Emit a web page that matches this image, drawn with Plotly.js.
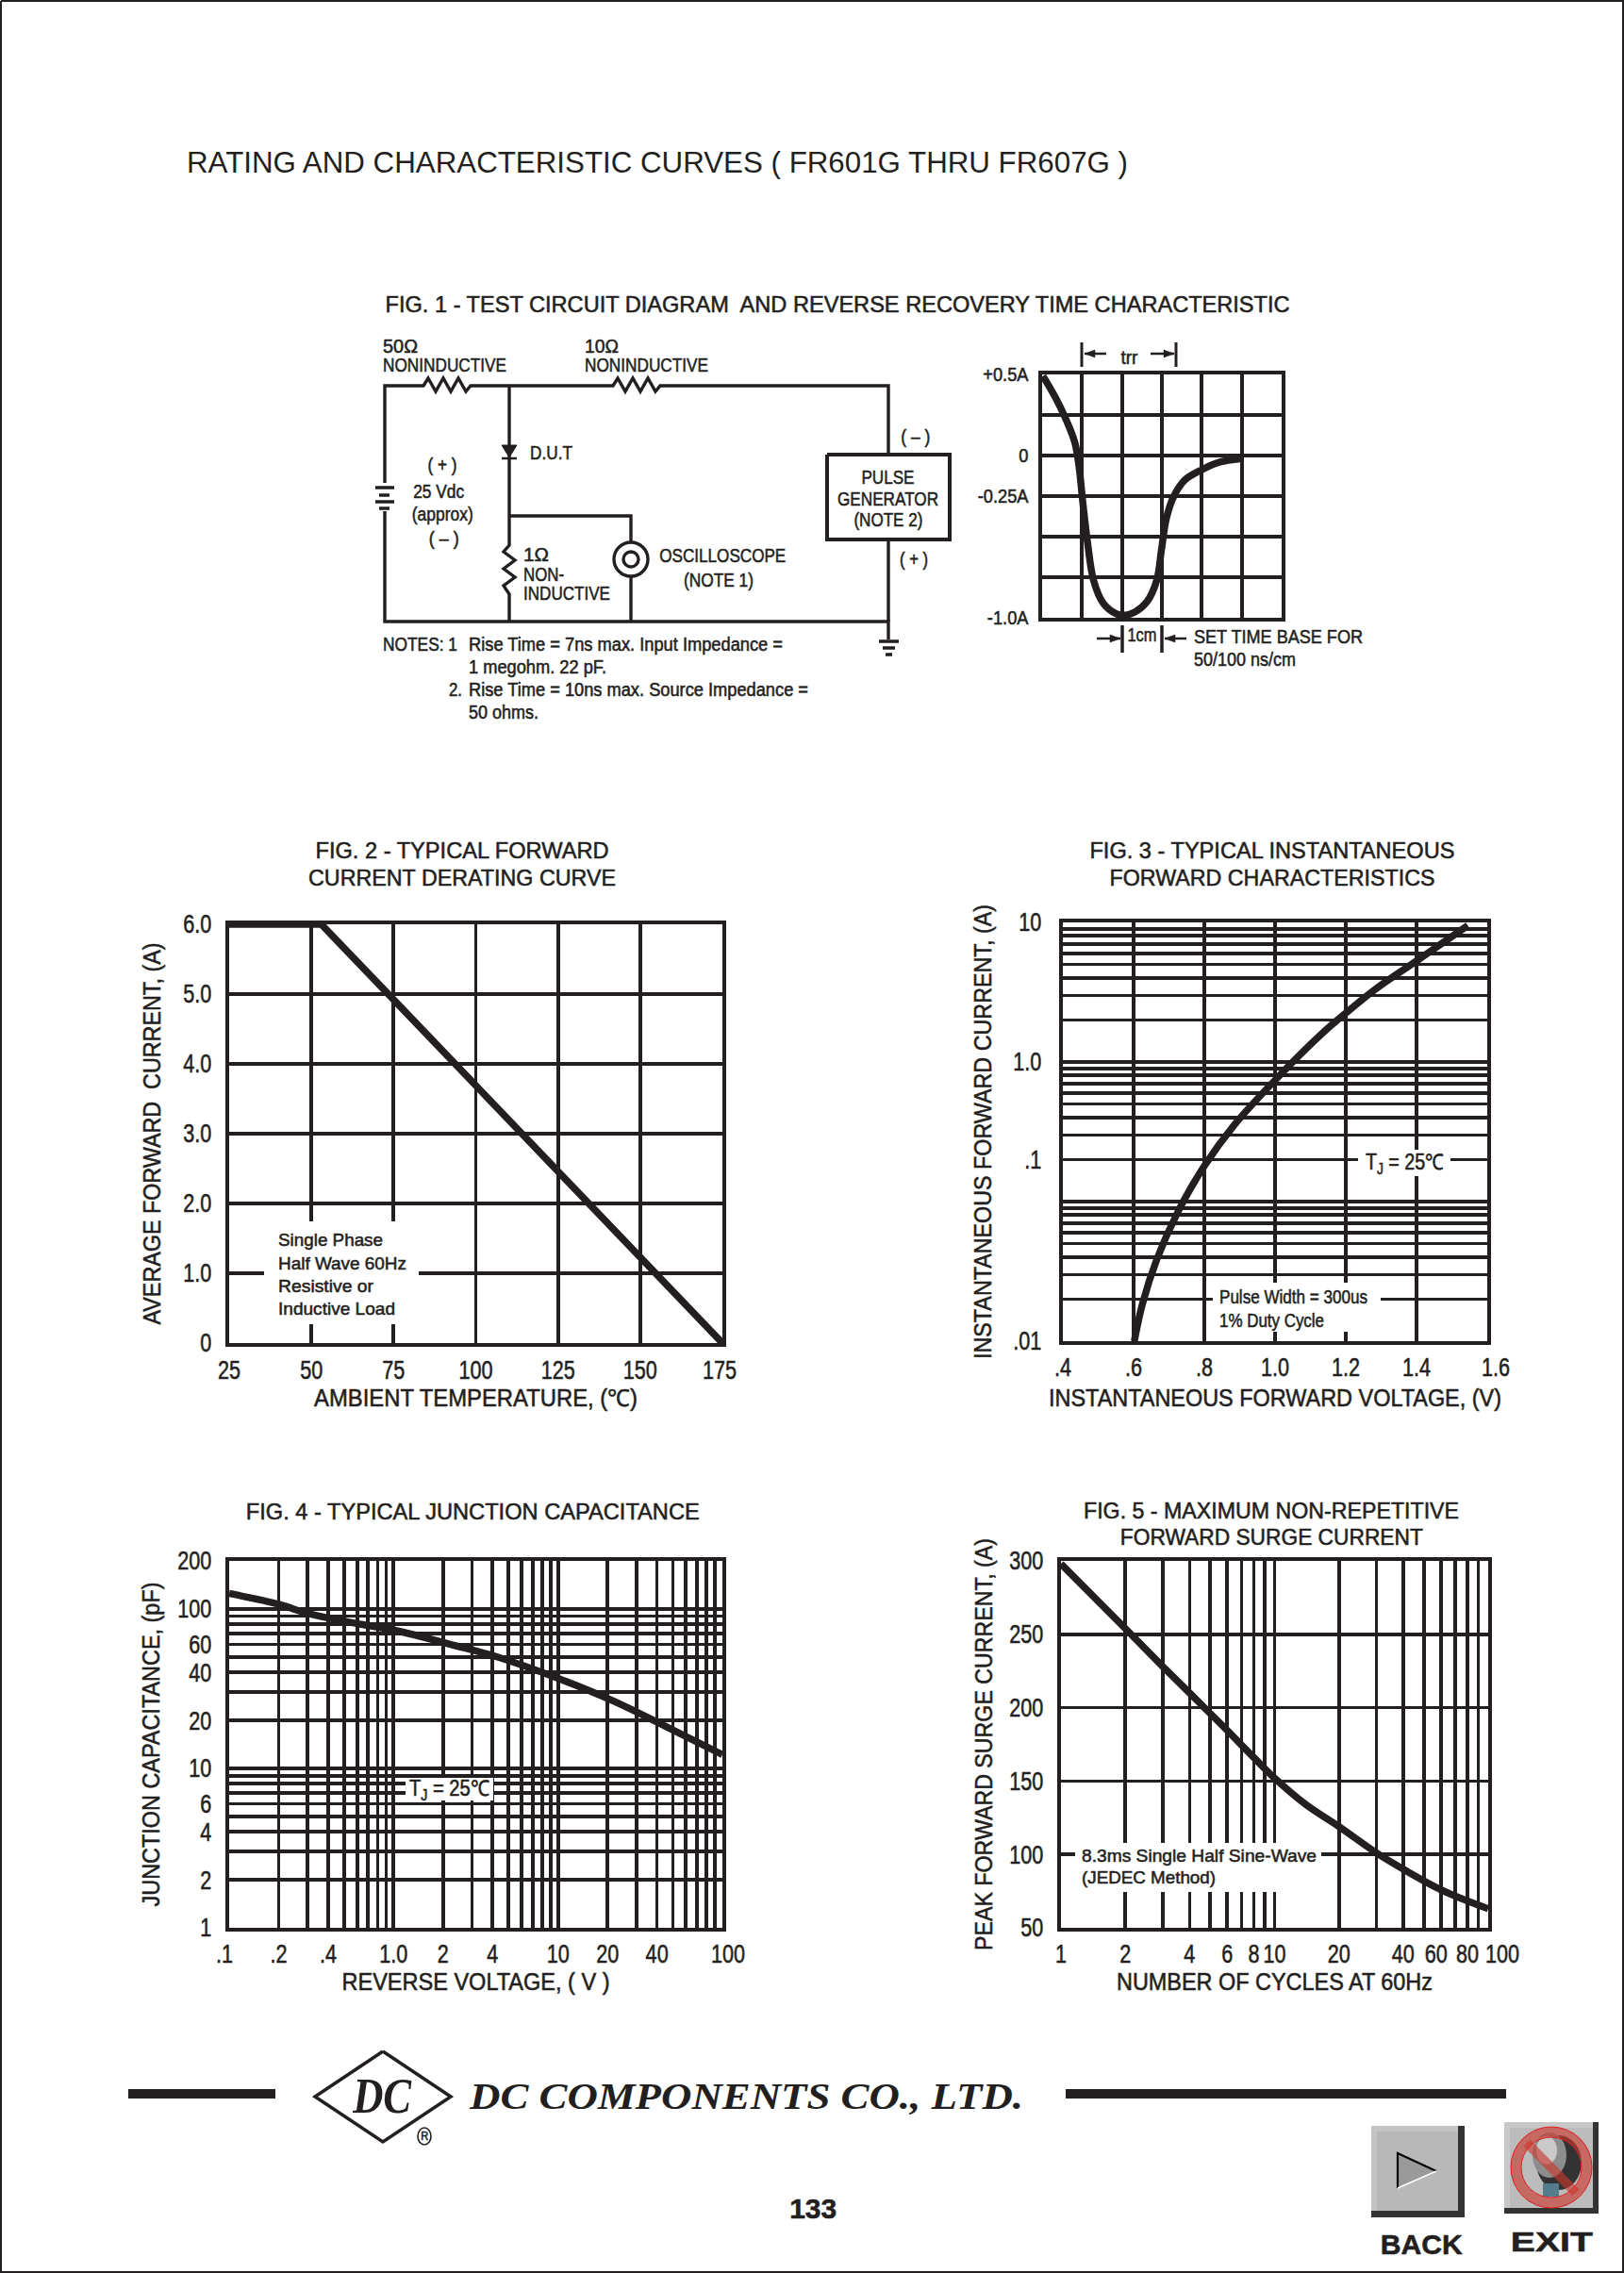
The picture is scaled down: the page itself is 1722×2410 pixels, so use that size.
<!DOCTYPE html>
<html>
<head>
<meta charset="utf-8">
<script src="https://cdn.plot.ly/plotly-3.0.1.min.js"></script>
<style>
html,body{margin:0;padding:0;background:#fff}
#chart text{stroke:#231f20;stroke-width:.55px}
#chart text.gtitle{stroke:none}
</style>
</head>
<body>
<div id="chart" style="width:1722px;height:2410px"></div>
<script>
// ---------- data ----------
const fig1Time    = [0.02,0.35,0.62,0.82,0.92,1.02,1.14,1.29,1.53,1.85,2.04,2.32,2.63,2.87,2.99,3.11,3.30,3.58,3.98,4.45,4.96];
const fig1Amps    = [0.49,0.35,0.21,0.08,-0.06,-0.29,-0.54,-0.77,-0.91,-0.975,-0.985,-0.965,-0.90,-0.77,-0.58,-0.39,-0.25,-0.15,-0.09,-0.04,-0.02];
const fig1YTicks  = [0.5,0,-0.25,-1];
const fig1YLabels = ['+0.5A','0','-0.25A','-1.0A'];
const fig1YGrid   = [0.25,-0.5,-0.75];
const fig1XGrid   = [0,1,2,3,4,5,6];

const fig2Temp    = [25,53,75,100,125,150,175];
const fig2Current = [6,6,4.92,3.69,2.46,1.23,0];
const fig2XTicks  = [25,50,75,100,125,150,175];
const fig2YTicks  = [0,1,2,3,4,5,6];
const fig2YLabels = ['0','1.0','2.0','3.0','4.0','5.0','6.0'];

const fig3Volt    = [0.602,0.625,0.666,0.727,0.80,0.885,1.0,1.133,1.2,1.285,1.4,1.545];
const fig3Current = [0.01,0.0185,0.0387,0.0861,0.18,0.355,0.741,1.6,2.24,3.34,5.3,9.5];
const fig3XTicks  = [0.4,0.6,0.8,1.0,1.2,1.4,1.6];
const fig3XLabels = ['.4','.6','.8','1.0','1.2','1.4','1.6'];
// the reference prints ".1" next to the heavy line two steps above the .1 decade line
const fig3YTicks  = [0.01,0.2,1,10];
const fig3YLabels = ['.01','.1','1.0','10'];
const fig3YGrid   = [0.02,0.03,0.04,0.05,0.06,0.07,0.08,0.09,0.1,0.3,0.4,0.5,0.6,0.7,0.8,0.9,2,3,4,5,6,7,8,9];

const fig4Volt    = [0.1,0.2,0.297,0.526,1.11,2.2,4.35,10.1,21.8,43.9,100];
const fig4Cap     = [125,107,94,83,72,60,49.7,36.6,26.4,18.6,12.2];
const fig4XTicks  = [0.1,0.2,0.4,1,2,4,10,20,40,100];
const fig4XLabels = ['.1','.2','.4','1.0','2','4','10','20','40','100'];
const fig4XGrid   = [0.3,0.5,0.6,0.7,0.8,0.9,3,5,6,7,8,9,30,50,60,70,80,90];
const fig4YTicks  = [1,2,4,6,10,20,40,60,100,200];
const fig4YGrid   = [3,5,7,8,9,30,50,70,80,90];

const fig5Cycles  = [1,2,3,4,5,6,8,10,14,20,30,40,60,100];
const fig5Amps    = [298,254,228,210,196,184.5,166,152,134,119,101,90,76,63];
const fig5XTicks  = [1,2,4,6,8,10,20,40,60,80,100];
const fig5XGrid   = [3,5,7,9,30,50,70,90];
const fig5YTicks  = [50,100,150,200,250,300];

// ---------- page frame helpers ----------
const W = 1722, H = 2410;
const INK = '#231f20';
const SANS = '"Liberation Sans",Arial,sans-serif';
const SERIF = '"Liberation Serif",serif';
const px = x => x / W, py = y => 1 - y / H;
const domX = (l, r) => [px(l), px(r)], domY = (t, b) => [py(b), py(t)];

const shapes = [], annotations = [], textWidths = [];
function stroke(pts, w, color, fill) {
  const d = pts.map((p, i) => (i ? 'L' : 'M') + px(p[0]) + ' ' + py(p[1])).join(' ') + (fill ? ' Z' : '');
  shapes.push({type:'path', xref:'paper', yref:'paper', path:d,
    line:{color:color||INK, width:w}, fillcolor:fill||'rgba(0,0,0,0)'});
}
function disc(cx, cy, rx, ry, w, line, fill) {
  shapes.push({type:'circle', xref:'paper', yref:'paper',
    x0:px(cx-rx), x1:px(cx+rx), y0:py(cy+ry), y1:py(cy-ry),
    line:{color:line, width:w}, fillcolor:fill||'rgba(0,0,0,0)'});
}
function box(x0, y0, x1, y1, fill) {
  shapes.push({type:'rect', xref:'paper', yref:'paper', x0:px(x0), x1:px(x1), y0:py(y1), y1:py(y0),
    line:{width:0}, fillcolor:fill});
}
function label(text, x, y, size, anchor, width, family) {
  textWidths[annotations.length] = width;
  annotations.push({
    text, x:px(x), y:py(y), xref:'paper', yref:'paper', showarrow:false,
    xanchor:anchor||'center', yanchor:'middle', align:anchor==='left'?'left':'center',
    font:{family:family||SANS, size, color:INK}, borderpad:0
  });
}
function arrow(x0, x1, y) {
  const dir = x1 > x0 ? 1 : -1;
  stroke([[x0,y],[x1,y]], 2.5);
  stroke([[x1,y],[x1-dir*11,y-4],[x1-dir*11,y+4]], 0.5, INK, INK);
}

// ---------- page border ----------
stroke([[1,1],[1721,1],[1721,2409],[1,2409],[1,1]], 2);

// ---------- FIG. 1 circuit ----------
const LW = 3.4;
stroke([[408,512],[408,409],[449,409],[454,401],[462,415],[470,401],[478,415],[486,401],[494,415],[499,409],[650,409],[655,401],[663,415],[671,401],[679,415],[687,401],[695,415],[700,409],[942,409],[942,482]], LW);
stroke([[408,542],[408,659],[942,659],[942,678]], LW);
stroke([[942,572],[942,659]], LW);
stroke([[540,409],[540,578],[534,585],[546,594],[534,603],[546,612],[534,621],[540,630],[540,659]], LW);
stroke([[540,547],[669,547],[669,575]], LW);
stroke([[669,611],[669,659]], LW);
stroke([[532,472],[548,472],[540,485]], 1, INK, INK);
stroke([[532,486],[548,486]], 2.5);
disc(669,593,18,18,3.4,INK);
disc(669,593,8,8,3.4,INK);
stroke([[398,517],[418,517]], 3.5);
stroke([[402,525],[413,525]], 3.5);
stroke([[398,532],[418,532]], 3.5);
stroke([[402,539],[413,539]], 3.5);
stroke([[877,482],[1007,482],[1007,572],[877,572],[877,482]], 4);
stroke([[932,680],[953,680]], 3.5);
stroke([[936,687],[949,687]], 3.5);
stroke([[939,694],[946,694]], 3.5);

label('50\u03A9',405,366,21,'left',37);
label('NONINDUCTIVE',405,387,21,'left',131);
label('10\u03A9',619,366,21,'left',36);
label('NONINDUCTIVE',619,387,21,'left',131);
label('D.U.T',561,480,21,'left',45);
label('( + )',469,493,20,'center',31);
label('25 Vdc',465,521,20,'center',54);
label('(approx)',469,545,20,'center',65);
label('( \u2013 )',471,571,20,'center',32);
label('1\u03A9',554,587,21,'left',27);
label('NON-',554,608,21,'left',43);
label('INDUCTIVE',554,629,21,'left',92);
label('OSCILLOSCOPE',766,588,21,'center',134);
label('(NOTE 1)',762,614,21,'center',74);
label('PULSE',942,505,21,'center',56);
label('GENERATOR',942,528,21,'center',107);
label('(NOTE 2)',942,551,21,'center',73);
label('( \u2013 )',971,463,20,'center',31);
label('( + )',969,593,20,'center',30);
label('NOTES: 1',405,683,20,'left',79);
label('Rise Time = 7ns max. Input Impedance =',496,683,20,'left',333);
label('1 megohm. 22 pF.',496,707,20,'left',146);
label('2.',475,731,20,'left',14);
label('Rise Time = 10ns max. Source Impedance =',496,731,20,'left',360);
label('50 ohms.',496,755,20,'left',74);

// scope annotations
stroke([[1147,363],[1147,389]], 3);
stroke([[1247,363],[1247,389]], 3);
arrow(1173,1150,375);
arrow(1220,1245,375);
label('trr',1197,379,20,'center',18);
stroke([[1190,663],[1190,692]], 3.5);
stroke([[1232,663],[1232,692]], 3.5);
arrow(1163,1188,677);
arrow(1258,1235,677);
label('1cm',1211,673,20,'center',31);
label('SET TIME BASE FOR',1265,674,21,'left',179);
label('50/100 ns/cm',1265,698,21,'left',108);

// ---------- headings ----------
label('FIG. 1 - TEST CIRCUIT DIAGRAM  AND REVERSE RECOVERY TIME CHARACTERISTIC',888,323,24,'center',959);
label('FIG. 2 - TYPICAL FORWARD',490,901,24,'center',311);
label('CURRENT DERATING CURVE',490,931,24,'center',326);
label('FIG. 3 - TYPICAL INSTANTANEOUS',1349,901,24,'center',387);
label('FORWARD CHARACTERISTICS',1349,931,24,'center',345);
label('FIG. 4 - TYPICAL JUNCTION CAPACITANCE',501,1602,24,'center',481);
label('FIG. 5 - MAXIMUM NON-REPETITIVE',1348,1601,24,'center',398);
label('FORWARD SURGE CURRENT',1348,1629,24,'center',321);

// ---------- notes that break the grid ----------
function mask(x0, y0, x1, y1) {
  shapes.push({type:'rect', xref:'paper', yref:'paper', layer:'above',
    x0:px(x0), x1:px(x1), y0:py(y1), y1:py(y0), line:{width:0}, fillcolor:'#ffffff'});
}
mask(280,1295,444,1404);
label('Single Phase',294,1315,19,'left',111);
label('Half Wave 60Hz',294,1339,19,'left',136);
label('Resistive or',294,1363,19,'left',101);
label('Inductive Load',294,1388,19,'left',124);

mask(1440,1219,1538,1247);
label('T<sub>J</sub> = 25\u2103',1489,1233,23,'center',83);

mask(1286,1360,1464,1412);
label('Pulse Width = 300us',1292,1375,20,'left',157);
label('1% Duty Cycle',1292,1400,20,'left',111);

mask(430,1885,523,1909);
label('T<sub>J</sub> = 25\u2103',476,1897,23,'center',85);

mask(1140,1954,1401,2006);
label('8.3ms Single Half Sine-Wave',1146,1967,19,'left',249);
label('(JEDEC Method)',1146,1991,19,'left',142);

// ---------- footer ----------
box(136,2215,292,2225,INK);
box(1130,2215,1597,2225,INK);
stroke([[406,2175],[478,2223],[406,2271],[334,2223],[406,2175]], 3.5);
label('<i><b>DC</b></i>',405,2222,52,'center',62,SERIF);
disc(450,2265,7,9,1.6,INK);
label('R',450,2265,12,'center',8);
label('<i><b>DC COMPONENTS CO., LTD.</b></i>',496,2222,41,'left',587,SERIF);
label('<b>133</b>',862,2342,29,'center',50);

// ---------- BACK button ----------
box(1454,2254,1553,2351,'#333333');
box(1454,2254,1546,2344,'#c4c4c4');
box(1460,2260,1546,2344,'#b8b8b8');
stroke([[1482,2283],[1523,2302],[1482,2320]], 0.5, '#9a9a9a', '#9a9a9a');
stroke([[1482,2320],[1482,2283],[1523,2302]], 2.2, '#000000');
stroke([[1482,2320],[1523,2302]], 1.5, '#ffffff');
label('<b>BACK</b>',1507,2379,30,'center',87);

// ---------- EXIT button ----------
box(1595,2250,1695,2347,'#333333');
box(1595,2250,1689,2341,'#c8c8c8');
box(1601,2256,1689,2341,'#bcbcbc');
disc(1653,2293,24,29,0,'#333333','#333333');
disc(1643,2285,18,24,0,'#8d8d8d','#8d8d8d');
disc(1640,2280,11,15,0,'#c9c9c9','#c9c9c9');
box(1636,2315,1653,2329,'#557c8c');
disc(1645,2298,37.5,37.5,11,'rgba(205,55,45,0.62)');
stroke([[1619,2272],[1671,2325]], 10, 'rgba(205,55,45,0.62)');
disc(1645,2298,43,43,1,'#e01f1f');
disc(1645,2298,32,32,1,'#e01f1f');
label('<b>EXIT</b>',1645,2376,30,'center',87);

// ---------- axes ----------
const GRID = 3.7;
function axis(o) {
  const a = {
    domain:o.domain, anchor:o.anchor, type:o.type||'linear', range:o.range,
    showline:true, mirror:true, linecolor:INK, linewidth:4.3,
    showgrid:true, gridcolor:INK, gridwidth:GRID, zeroline:false,
    ticks:'', tickangle:0, tickmode:'array', tickvals:o.ticks, ticktext:o.labels||o.ticks.map(String),
    tickfont:{family:SANS,size:o.tickSize||27,color:INK},
    ticklabelstandoff:o.standoff===undefined?0:o.standoff, layer:'below traces'
  };
  if (o.hideLabels) a.showticklabels = false;
  if (o.grid) a.minor = {tickmode:'array', tickvals:o.grid, showgrid:true, gridcolor:INK, gridwidth:GRID, ticks:''};
  if (o.title) a.title = {text:o.title, standoff:o.titleGap, font:{family:SANS,size:25,color:INK}};
  return a;
}

const layout = {
  width:W, height:H, margin:{l:0,r:0,t:0,b:0}, autosize:false,
  paper_bgcolor:'#fff', plot_bgcolor:'#fff', showlegend:false,
  title:{text:'RATING AND CHARACTERISTIC CURVES ( FR601G THRU FR607G )',
    x:px(198), xanchor:'left', xref:'paper', y:py(172), yanchor:'middle',
    font:{family:SANS,size:31,color:INK}},
  shapes, annotations,
  // FIG. 1 scope
  xaxis: axis({domain:domX(1105,1359),anchor:'y',range:[0,6],ticks:fig1XGrid,hideLabels:true}),
  yaxis: axis({domain:domY(397,655),anchor:'x',range:[-1,0.5],ticks:fig1YTicks,labels:fig1YLabels,grid:fig1YGrid,tickSize:21,standoff:6}),
  // FIG. 2
  xaxis2: axis({domain:domX(243,766),anchor:'y2',range:[25,175],ticks:fig2XTicks,standoff:1,title:'AMBIENT TEMPERATURE, (\u2103)',titleGap:8}),
  yaxis2: axis({domain:domY(980,1424),anchor:'x2',range:[0,6],ticks:fig2YTicks,labels:fig2YLabels,standoff:9,title:'AVERAGE FORWARD  CURRENT, (A)',titleGap:10}),
  // FIG. 3
  xaxis3: axis({domain:domX(1127,1577),anchor:'y3',range:[0.4,1.6],ticks:fig3XTicks,labels:fig3XLabels,title:'INSTANTANEOUS FORWARD VOLTAGE, (V)',titleGap:11}),
  yaxis3: axis({domain:domY(978,1422),anchor:'x3',type:'log',range:[-2,1],ticks:fig3YTicks,labels:fig3YLabels,grid:fig3YGrid,standoff:13,title:'INSTANTANEOUS FORWARD CURRENT, (A)',titleGap:9}),
  // FIG. 4
  xaxis4: axis({domain:domX(243,766),anchor:'y4',type:'log',range:[-1,2],ticks:fig4XTicks,labels:fig4XLabels,grid:fig4XGrid,title:'REVERSE VOLTAGE, ( V )',titleGap:2}),
  yaxis4: axis({domain:domY(1655,2044),anchor:'x4',type:'log',range:[0,Math.log10(200)],ticks:fig4YTicks,grid:fig4YGrid,standoff:9,title:'JUNCTION CAPACITANCE, (pF)',titleGap:4}),
  // FIG. 5
  xaxis5: axis({domain:domX(1125,1578),anchor:'y5',type:'log',range:[0,2],ticks:fig5XTicks,grid:fig5XGrid,title:'NUMBER OF CYCLES AT 60Hz',titleGap:2}),
  yaxis5: axis({domain:domY(1655,2044),anchor:'x5',range:[50,300],ticks:fig5YTicks,standoff:9,title:'PEAK FORWARD SURGE CURRENT, (A)',titleGap:3})
};

function curve(x, y, n, spline) {
  const line = {color:INK, width:7.5};
  if (spline) { line.shape = 'spline'; line.smoothing = 1; }
  return {x, y, xaxis:'x'+n, yaxis:'y'+n, mode:'lines', type:'scatter', line, hoverinfo:'skip'};
}
const traces = [
  curve(fig1Time, fig1Amps, '', true),
  curve(fig2Temp, fig2Current, '2', false),
  curve(fig3Volt, fig3Current, '3', true),
  curve(fig4Volt, fig4Cap, '4', true),
  curve(fig5Cycles, fig5Amps, '5', true)
];

// the reference's type is condensed: fit each text to the width measured on the picture
const fit = (el, width) => {
  el.setAttribute('textLength', width);
  el.setAttribute('lengthAdjust', 'spacingAndGlyphs');
};
const titleWidths = {
  xtitle2:343, xtitle3:480, xtitle4:284, xtitle5:335,
  ytitle2:405, ytitle3:482, ytitle4:344, ytitle5:437
};
// tick labels the reference sets off-centre from their grid line
const tickNudges = {x2:{'175':-3}, x3:{'1.6':9}, x4:{'.1':-5,'100':6}, x5:{'60':-5,'100':15}};

Plotly.newPlot('chart', traces, layout, {displayModeBar:false, staticPlot:true}).then(gd => {
  // subscripts leave zero-width helpers behind: fold them into the text that follows
  gd.querySelectorAll('text').forEach(el => {
    [...el.childNodes].forEach(n => {
      if (n.nodeType === 3 && n.textContent === '\u200b') n.remove();
    });
  });
  gd.querySelectorAll('tspan').forEach(t => {
    if (t.textContent !== '\u200b') return;
    const next = t.nextSibling;
    if (next && next.nodeType === 3) { t.textContent = next.textContent; next.remove(); }
    else t.remove();
  });
  gd.querySelectorAll('.annotation').forEach(g => {
    const w = textWidths[+g.getAttribute('data-index')];
    const t = g.querySelector('text');
    if (w && t) fit(t, w);
    if (t && /Serif/.test(t.style.fontFamily)) t.style.strokeWidth = '0';
  });
  [2,3,4,5].forEach(n => {
    const xt = gd.querySelector('.x'+n+'title'), yt = gd.querySelector('.y'+n+'title');
    if (xt) fit(xt, titleWidths['xtitle'+n]);
    if (yt) fit(yt, titleWidths['ytitle'+n]);
  });
  const head = gd.querySelector('.gtitle');
  if (head) fit(head, 998);
  ['x2','x3','x4','x5','y','y2','y3','y4','y5'].forEach(id => {
    gd.querySelectorAll('.'+id+'tick text').forEach(t => {
      fit(t, t.getComputedTextLength() * (id === 'y' ? 0.87 : 0.8));
      const nudge = (tickNudges[id]||{})[t.textContent];
      if (nudge) t.setAttribute('dx', nudge);
    });
  });
});
</script>
</body>
</html>
